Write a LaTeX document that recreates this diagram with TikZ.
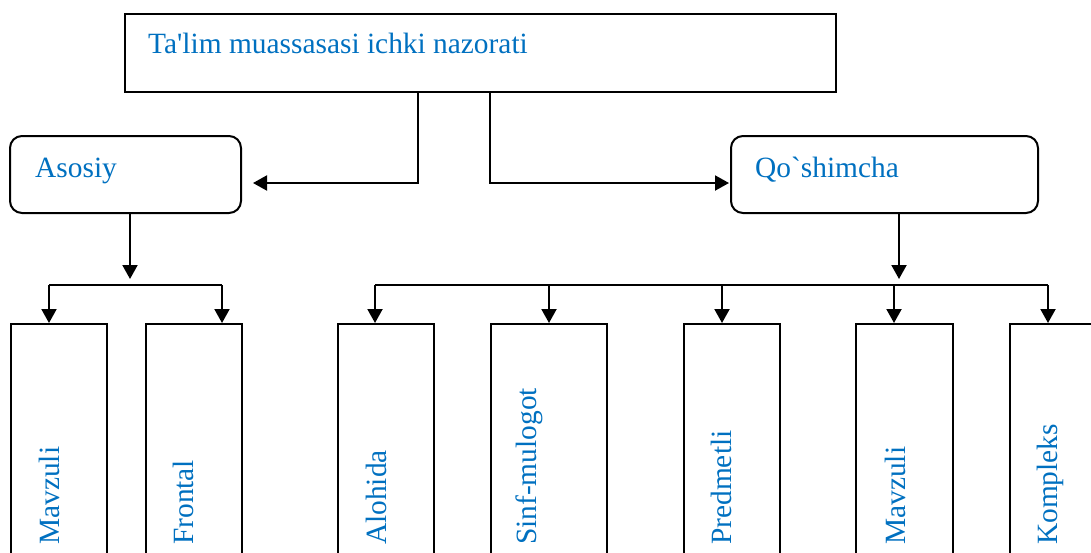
\documentclass[tikz,border=0pt]{standalone}
\usepackage{fontspec}
\setmainfont{Liberation Serif}
\usetikzlibrary{arrows.meta}
\usetikzlibrary{calc}
\usetikzlibrary{positioning}
\definecolor{txtblue}{RGB}{0,112,192}
\tikzset{
  box/.style={draw, line width=2pt, inner sep=0pt},
  roundbox/.style={box, rounded corners=12pt},
  lbl/.style={text=txtblue, inner sep=0pt, font=\fontsize{29.4}{34}\selectfont},
  vlbl/.style={lbl, rotate=90, anchor=base west},
  wire/.style={line width=2pt},
  arr/.style={wire, -{Triangle[length=14pt,width=15pt]}}
}

\begin{document}
\begin{tikzpicture}[x=1pt,y=-1pt]
        \useasboundingbox (0,0) rectangle (1091,552);
        \clip (0,0) rectangle (1091,552);
        % Draw the top box
        \node[box, minimum width=711pt, minimum height=78pt] (root) at (480.5,53) {};
        \node[lbl, anchor=base west] (roottxt) at (148,53) {Ta\textquotesingle lim muassasasi ichki nazorati};
        % Define the two middle boxes
        \node[roundbox, minimum width=231pt, minimum height=77pt] (asosiy) at (125.5,174.5) {};
        \node[roundbox, minimum width=307pt, minimum height=77pt] (qosh) at (884.5,174.5) {};
        \node[lbl, anchor=base west] (asosiytxt) at (35,177) {Asosiy};
        \node[lbl, anchor=base west] (qoshtxt) at (755,177) {Qo\textasciigrave shimcha};
        % Arrows from the top box
        \draw[arr, shorten >=11pt] (root.south -| 418,0) |- (asosiy.east |- 0,183);
        \draw[arr, shorten >=1pt] (root.south -| 490,0) |- (qosh.west |- 0,183);
        % Bottom boxes
        \node[box, minimum width=96pt, minimum height=260pt, anchor=north west] (m1) at (10,323) {};
        \node[box, minimum width=96pt, minimum height=260pt, anchor=north west] (fr) at (145,323) {};
        \node[box, minimum width=96pt, minimum height=260pt, anchor=north west] (al) at (337,323) {};
        \node[box, minimum width=116pt, minimum height=260pt, anchor=north west] (sm) at (490,323) {};
        \node[box, minimum width=96pt, minimum height=260pt, anchor=north west] (pr) at (683,323) {};
        \node[box, minimum width=97pt, minimum height=260pt, anchor=north west] (m2) at (855,323) {};
        \node[box, minimum width=100pt, minimum height=260pt, anchor=north west] (ko) at (1009,323) {};
        % Add labels for the bottom boxes
        \node[vlbl] (m1txt) at ($(m1.north west)+(49,222)$) {Mavzuli};
        \node[vlbl] (frtxt) at ($(fr.north west)+(48,222)$) {Frontal};
        \node[vlbl] (altxt) at ($(al.north west)+(49,222)$) {Alohida};
        \node[vlbl] (smtxt) at ($(sm.north west)+(46,222)$) {Sinf-mulogot};
        \node[vlbl] (prtxt) at ($(pr.north west)+(48,222)$) {Predmetli};
        \node[vlbl] (m2txt) at ($(m2.north west)+(50,222)$) {Mavzuli};
        \node[vlbl] (kotxt) at ($(ko.north west)+(48,222)$) {Kompleks};
        % Asosiy branch
        \coordinate (abus) at (130,285);
        \draw[arr, shorten >=6pt] (asosiy.south -| abus) -- (abus);
        \draw[wire] (49,285) -- (222,285);
        \foreach \x/\b in {49/m1,222/fr}
          \draw[arr] (\x,285) -- (\x,0 |- \b.north);
        % Qo`shimcha branch
        \coordinate (qbus) at (899,285);
        \draw[arr, shorten >=6pt] (qosh.south -| qbus) -- (qbus);
        \draw[wire] (375,285) -- (1048,285);
        \foreach \x/\b in {375/al,549/sm,722/pr,894/m2,1048/ko}
          \draw[arr] (\x,285) -- (\x,0 |- \b.north);
      \end{tikzpicture}
\end{document}
